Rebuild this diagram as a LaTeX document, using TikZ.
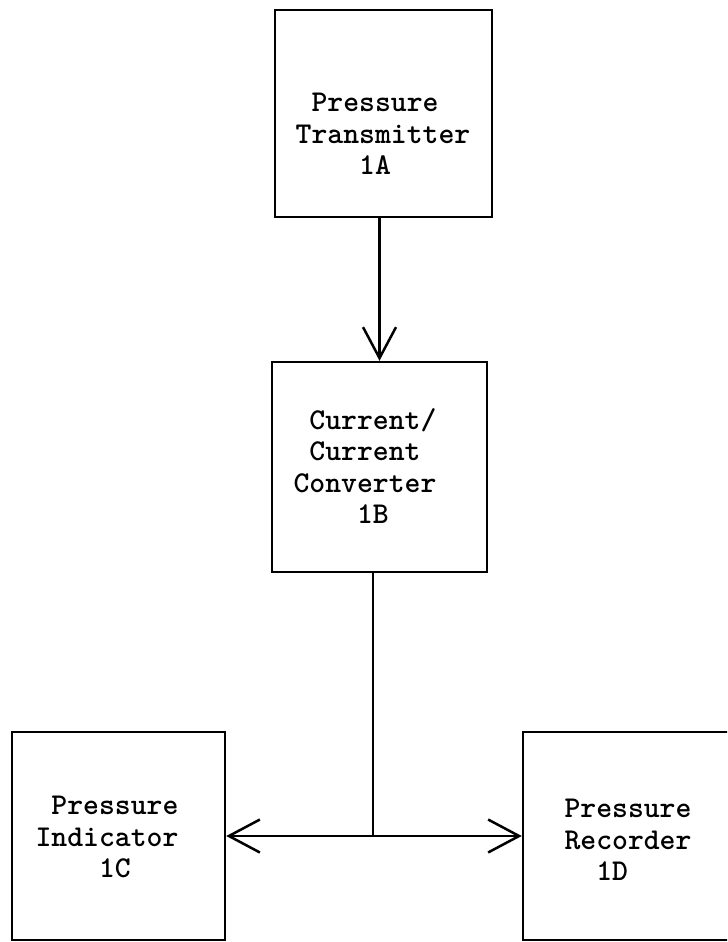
\documentclass[tikz,border=0pt]{standalone}
\usetikzlibrary{arrows.meta}

\begin{document}
\begin{tikzpicture}[x=0.02cm,y=-0.02cm,line width=0.05cm,
    blk/.style={draw,inner sep=0pt},
    lbl/.style={align=left,inner sep=0pt,font=\ttfamily\bfseries\fontsize{17.2}{17.8}\selectfont},
    sig/.style={-{Straight Barb[length=0.62cm,width=0.66cm]}}]

    \def\skipcol#1{\hspace*{#1\fontcharwd\font`0}}

    \clip (0,0) rectangle (727,942);

    % boxes
    \node[blk,minimum width=4.34cm,minimum height=4.14cm] (transmitter) at (383.5,113.5) {};
    \node[blk,minimum width=4.30cm,minimum height=4.20cm] (converter)   at (379.5,467)   {};
    \node[blk,minimum width=4.26cm,minimum height=4.16cm] (indicator)   at (118.5,836)   {};
    \node[blk,minimum width=4.30cm,minimum height=4.16cm] (recorder)    at (630.5,836)   {};

    % typed labels
    \node[lbl] (transmitter-txt) at (383,134) {\skipcol{1}Pressure\\Transmitter\\\skipcol{4}1A};
    \node[lbl] (converter-txt)   at (365,466) {\skipcol{1}Current/\\\skipcol{1}Current\\Converter\\\skipcol{4}1B};
    \node[lbl] (indicator-txt)   at (107,837) {\skipcol{1}Pressure\\Indicator\\\skipcol{4}1C};
    \node[lbl] (recorder-txt)    at (628,840) {Pressure\\Recorder\\\skipcol{2}1D};

    % signal lines
    \draw[sig] (converter.north |- transmitter.south) -- (converter.north);
    \coordinate (tap)   at ([xshift=-0.13cm]converter.south);
    \coordinate (split) at (tap |- indicator.east);
    \draw      (tap) -- (split);
    \draw[sig] (split) -- (indicator.east);
    \draw[sig] (split) -- (recorder.west);

\end{tikzpicture}
\end{document}
